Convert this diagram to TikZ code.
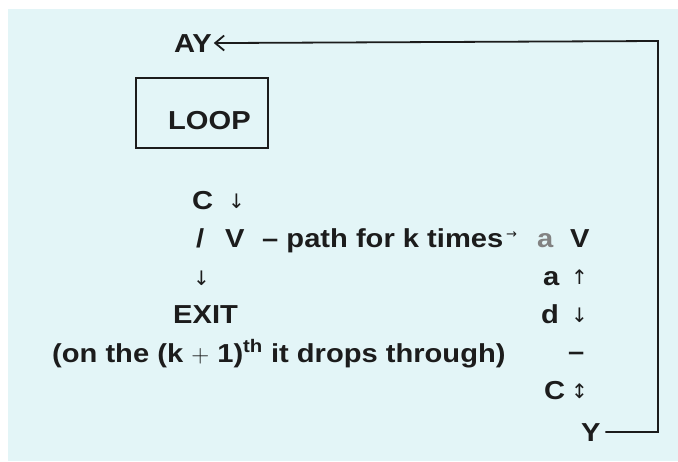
\documentclass[tikz,border=0pt]{standalone}
\usepackage{fontspec}
\setmainfont{Liberation Sans}[FakeStretch=1.12]
\newfontfamily\symf{DejaVu Sans}
\usetikzlibrary{arrows.meta}
\definecolor{bgc}{HTML}{E3F5F7}
\definecolor{ink}{HTML}{1C1C1C}
\begin{document}
\begin{tikzpicture}[x=1pt,y=-1pt,
  txt/.style={font=\bfseries\fontsize{26}{28}\selectfont, text=ink, inner sep=0pt, anchor=base west},
  arr/.style={font=\symf\fontsize{20}{22}\selectfont, text=ink, inner sep=0pt, anchor=base west},
  conn/.style={draw=ink, line width=1.8pt, line join=miter},
  boxst/.style={draw=ink, line width=2.2pt, minimum width=132pt, minimum height=70pt, inner sep=0pt}]
\useasboundingbox (0,0) rectangle (678,461);
\fill[white] (0,0) rectangle (678,461);
\fill[bgc] (8,9) rectangle (678,461);
% top
\node[txt, outer xsep=2pt] (AY) at (172,52) {AY};
\node[boxst] (loop) at (202,113) {};
\node[txt] (looptxt) at (168,129) {LOOP};
% left column
\node[txt] (c1) at (192,209) {C};
\node[arr] (c1a) at (228,208) {↓};
\node[txt] (sl) at (196,247) {/};
\node[txt] (v1) at (225,247) {V};
\node[txt] (path) at (262,247) {– path for k times};
\node[arr, font=\symf\fontsize{13}{14}\selectfont] (pa) at (506,238) {→};
\node[txt, text=ink!55] (a0) at (537,247) {a};
\node[txt] (v2) at (570,247) {V};
\node[arr] (d1) at (193,285) {↓};
\node[txt] (exit) at (173,323) {EXIT};
\node[txt] (note) at (52,362) {(on the (k \(+\) 1)\textsuperscript{th} it drops through)};
% right column
\node[txt] (a1) at (543,285) {a};
\node[arr] (a1a) at (571,284) {↑};
\node[txt] (d2) at (541,323) {d};
\node[arr] (d2a) at (571,322) {↓};
\node[txt] (bar) at (568,360) {–};
\node[txt] (c2) at (544,399) {C};
\node[arr] (c2a) at (571,398) {↕};
\node[txt, outer xsep=5pt] (Y) at (576,441) {Y};
\coordinate (rc) at (658,41);
\draw[conn, -{Straight Barb[length=9pt,width=15pt,line width=1.8pt]}] (Y.east) -| (rc) -- (AY.east);
\end{tikzpicture}
\end{document}
